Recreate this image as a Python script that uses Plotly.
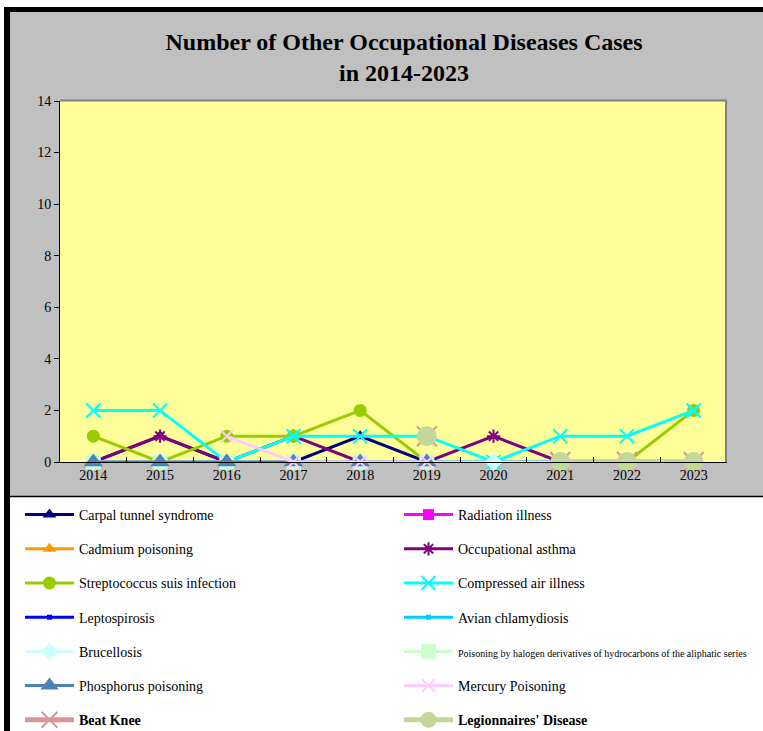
import plotly.graph_objects as go

years = ["2014", "2015", "2016", "2017", "2018", "2019", "2020", "2021", "2022", "2023"]

carpal = [0, 1, 0, 0, 1, 0, 0, 0, 0, 0]
radiation = [0, 0, 0, 0, 0, 0, 0, 0, 0, 0]
cadmium = [0, 0, 0, 0, 0, 0, 0, 0, 0, 0]
asthma = [0, 1, 0, 1, 0, 0, 1, 0, 0, 0]
strep = [1, 0, 1, 1, 2, 0, 0, 0, 0, 2]
compressed = [2, 2, 0, 1, 1, 1, 0, 1, 1, 2]
lepto = [0, 0, 0, 0, 0, 0, 0, 0, 0, 0]
avian = [0, 0, 0, 0, 0, 0, 0, 0, 0, 0]
brucellosis = [0, 0, 0, 0, 0, 0, 0, 0, 0, 0]
halogen = [0, 0, 0, 0, 0, 0, None, None, None, None]
phosphorus = [0, 0, 0, 0, 0, 0, None, None, None, None]
mercury = [None, None, 1, 0, 0, 0, None, None, None, None]
beat_knee = [None, None, None, None, None, 1, None, 0, 0, 0]
legionnaires = [None, None, None, None, None, 1, None, 0, 0, 0]

yticks = [0, 2, 4, 6, 8, 10, 12, 14]

FONT = "Liberation Serif"

series = [
    ("Carpal tunnel syndrome", carpal, "#000080", "triangle-up", 12, 3, "legend"),
    ("Radiation illness", radiation, "#FF00FF", "square", 11, 3, "legend2"),
    ("Cadmium poisoning", cadmium, "#FF9900", "triangle-up", 12, 3, "legend"),
    ("Occupational asthma", asthma, "#800080", "asterisk-open", 11, 3, "legend2"),
    ("Streptococcus suis infection", strep, "#99CC00", "circle", 13, 3, "legend"),
    ("Compressed air illness", compressed, "#00FFFF", "x-thin-open", 14, 3, "legend2"),
    ("Leptospirosis", lepto, "#0000FF", "square", 5, 3, "legend"),
    ("Avian chlamydiosis", avian, "#00CCFF", "square", 5, 3, "legend2"),
    ("Brucellosis", brucellosis, "#CCFFFF", "diamond", 14, 3, "legend"),
    ('<span style="font-size:10px">Poisoning by halogen derivatives of hydrocarbons of the aliphatic series</span>',
     halogen, "#CCFFCC", "square", 15, 3, "legend2"),
    ("Phosphorus poisoning", phosphorus, "#4F81BD", "triangle-up", 17, 3, "legend"),
    ("Mercury Poisoning", mercury, "#FFCCFF", "x-thin-open", 13, 3, "legend2"),
    ("<b>Beat Knee</b>", beat_knee, "#DA9694", "x-thin-open", 20, 5, "legend"),
    ("<b>Legionnaires' Disease</b>", legionnaires, "#C4D79B", "circle", 20, 5, "legend2"),
]

fig = go.Figure()
for i, (name, vals, color, sym, size, lw, leg) in enumerate(series):
    marker = dict(symbol=sym, size=size, color=color)
    if sym.endswith("-open"):
        marker["line"] = dict(color=color, width=2)
    fig.add_trace(go.Scatter(
        x=years, y=vals, name=name, mode="lines+markers",
        line=dict(color=color, width=lw), marker=marker, cliponaxis=False,
        legend=leg, legendgroup="g%d" % i, connectgaps=False,
    ))

W, H = 763, 731
L, R, T, B = 60, 36, 101, 269
pw, ph = W - L - R, H - T - B


def px(x):
    return (x - L) / pw


def py(y):
    return (H - B - y) / ph


shapes = [
    dict(type="rect", xref="paper", yref="paper", x0=px(10), x1=px(763), y0=py(496), y1=py(12),
         fillcolor="#C0C0C0", line=dict(width=0), layer="below"),
    dict(type="rect", xref="paper", yref="paper", x0=0, x1=1, y0=0, y1=1,
         fillcolor="#FFFF99", line=dict(width=0), layer="below"),
    dict(type="rect", xref="paper", yref="paper", x0=px(4), x1=px(10), y0=py(731), y1=py(7),
         fillcolor="black", line=dict(width=0), layer="above"),
    dict(type="rect", xref="paper", yref="paper", x0=px(4), x1=px(763), y0=py(12), y1=py(7),
         fillcolor="black", line=dict(width=0), layer="above"),
    dict(type="line", xref="paper", yref="paper", x0=px(10), x1=px(763), y0=py(496.5), y1=py(496.5),
         line=dict(color="black", width=1.5), layer="above"),
    dict(type="line", xref="paper", yref="paper", x0=0, x1=px(727), y0=py(100.5), y1=py(100.5),
         line=dict(color="#808080", width=2), layer="below"),
    dict(type="line", xref="paper", yref="paper", x0=px(726), x1=px(726), y0=0, y1=py(100),
         line=dict(color="#808080", width=2), layer="below"),
]

legend_common = dict(
    xref="container", yref="container", yanchor="top", xanchor="left",
    bgcolor="rgba(0,0,0,0)", font=dict(family=FONT, size=14, color="black"),
    tracegroupgap=13, itemwidth=49, orientation="v",
)

fig.update_layout(
    width=W, height=H,
    margin=dict(l=L, r=R, t=T, b=B, autoexpand=False),
    paper_bgcolor="white", plot_bgcolor="rgba(0,0,0,0)",
    title=dict(text="<b>Number of Other Occupational Diseases Cases<br>in 2014-2023</b>",
               x=(404) / W, xanchor="center", y=1 - 50 / H, yanchor="middle",
               font=dict(family=FONT, size=24, color="black")),
    xaxis=dict(type="category", range=[-0.5, 9.5], showline=True, linecolor="black", linewidth=1,
               ticks="inside", ticklen=5, tickcolor="black", tickson="boundaries",
               showgrid=False, zeroline=False, tickangle=0, automargin=False,
               tickfont=dict(family=FONT, size=14, color="black")),
    yaxis=dict(range=[0, 14], tickvals=yticks, showline=True, linecolor="black", linewidth=1,
               ticks="outside", ticklen=5, tickcolor="black", showgrid=False, zeroline=False,
               automargin=False,
               tickfont=dict(family=FONT, size=14, color="black")),
    legend=dict(x=20 / W, y=1 - 499 / H, **legend_common),
    legend2=dict(x=399 / W, y=1 - 499 / H, **legend_common),
    shapes=shapes,
)

fig.write_html("out.html", config={"displayModeBar": False},
               post_script="document.body.style.margin='0';document.body.style.overflow='hidden';")
